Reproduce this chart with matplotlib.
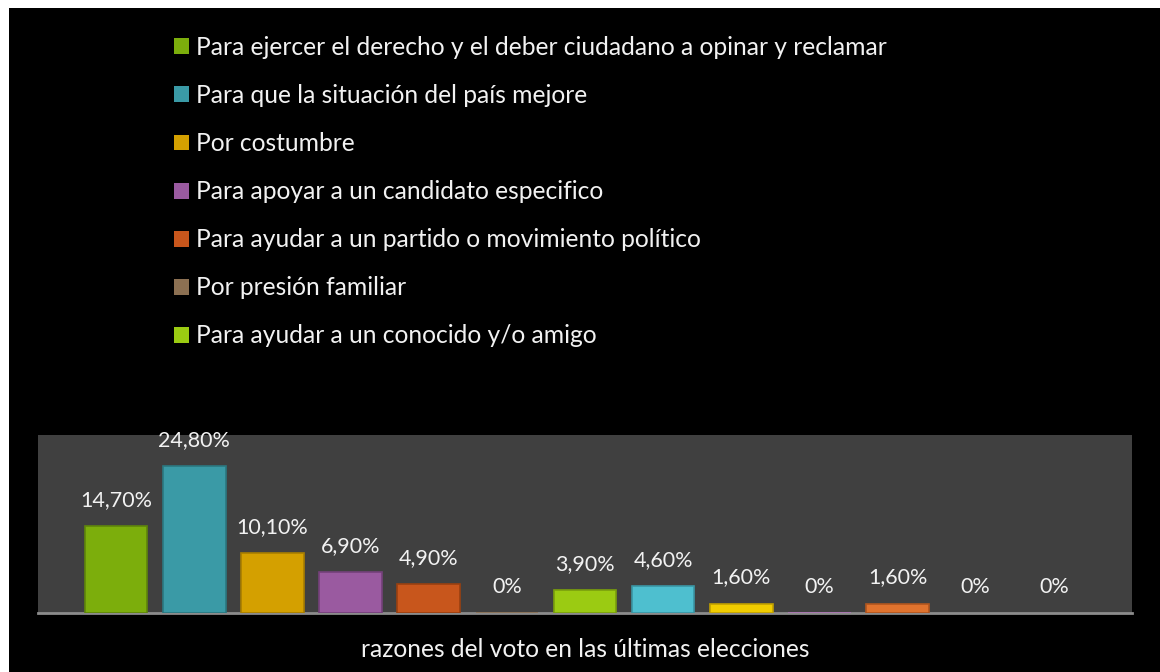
import matplotlib.pyplot as plt
from matplotlib.patches import Patch, Rectangle

plt.rcParams["font.family"] = ["Lato", "DejaVu Sans"]

# Data
categories = [
    "Para ejercer el derecho y el deber ciudadano a opinar y reclamar",
    "Para que la situación del país mejore",
    "Por costumbre",
    "Para apoyar a un candidato especifico",
    "Para ayudar a un partido o movimiento político",
    "Por presión familiar",
    "Para ayudar a un conocido y/o amigo",
]
values = [14.7, 24.8, 10.1, 6.9, 4.9, 0, 3.9, 4.6, 1.6, 0, 1.6, 0, 0]
value_labels = ["14,70%", "24,80%", "10,10%", "6,90%", "4,90%", "0%", "3,90%",
                "4,60%", "1,60%", "0%", "1,60%", "0%", "0%"]

bar_colors = ["#7cae0c", "#3a9aa6", "#d4a000", "#9a5aa0", "#c8561c", "#8c7052",
              "#9bcb12", "#4ebfcf", "#f0cc00", "#b074b8", "#e0732e", "none", "none"]
edge_colors = ["#5e850a", "#2b7880", "#a87e00", "#74407a", "#9a4010", "#8c7052",
               "#7a9f0c", "#3a96a4", "#c0a000", "#b074b8", "#b0561f", "none", "none"]
legend_colors = ["#7cae0c", "#3a9aa6", "#d4a000", "#9a5aa0", "#c8561c", "#8c7052",
                 "#9bcb12"]

text_color = "#f2f2f2"
fs = 17.7

fig = plt.figure(figsize=(11.6, 6.72), dpi=100, facecolor="white")
# black slide background, leaving the thin white strip at top and left
fig.patches.append(Rectangle((9 / 1160, 0), 1, 1 - 8 / 672, transform=fig.transFigure,
                             facecolor="black", edgecolor="none", zorder=-1))

ax = fig.add_axes([38 / 1160, 59 / 672, 1094 / 1160, 178 / 672])
ax.set_facecolor("#404040")

x = list(range(len(values)))
bars = ax.bar(x, values, width=0.8, color=bar_colors, edgecolor=edge_colors,
              linewidth=1.2, zorder=3)

for xi, v, lab in zip(x, values, value_labels):
    ax.annotate(lab, (xi, v), xytext=(0, 11.5), textcoords="offset points",
                ha="center", va="bottom", color=text_color, fontsize=15.5)

ax.set_xlim(-1, 13)
ax.set_ylim(0, 30)
ax.set_xticks([])
ax.set_yticks([])
for s in ["top", "left", "right"]:
    ax.spines[s].set_visible(False)
ax.spines["bottom"].set_color("#8c8c8c")
ax.spines["bottom"].set_linewidth(2)
ax.spines["bottom"].set_zorder(2)

ax.set_xlabel("razones del voto en las últimas elecciones", color=text_color,
              fontsize=fs, labelpad=18)

handles = [Patch(facecolor=c, edgecolor="none") for c in legend_colors]
fig.legend(handles, categories, loc="upper left", bbox_to_anchor=(174 / 1160, 1 - 36 / 672),
           frameon=False, fontsize=fs, labelcolor=text_color, labelspacing=1.02,
           handlelength=0.62, handleheight=0.62, handletextpad=0.29,
           borderpad=0, borderaxespad=0)

fig.savefig("out.png", dpi=100, facecolor=fig.get_facecolor())
